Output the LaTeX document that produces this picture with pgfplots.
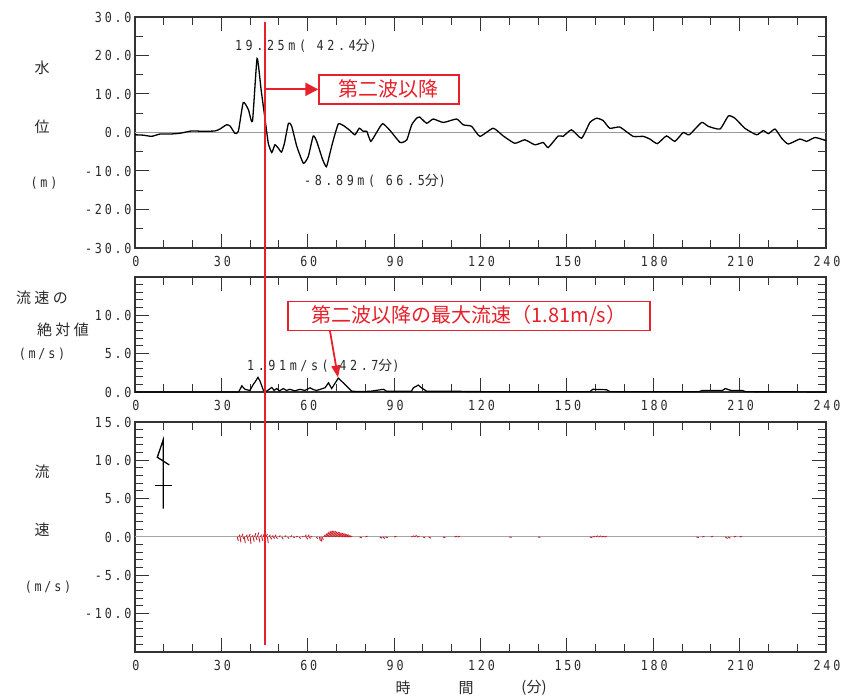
\documentclass[border=0pt]{standalone}
\usepackage{fontspec}
\usepackage{pgfplots}
\pgfplotsset{compat=1.18}
\usetikzlibrary{arrows.meta}
\newfontfamily\jp{Noto Sans CJK JP}
\newfontfamily\jpw[LetterSpace=22]{Noto Sans CJK JP}
\newfontfamily\numfont[LetterSpace=20,FakeStretch=0.85]{DejaVu Sans Mono}
\newfontfamily\numwide[LetterSpace=26,FakeStretch=0.85]{DejaVu Sans Mono}
\newcommand\nf{\numfont\fontsize{13.8pt}{15pt}\selectfont}
\newcommand\nw{\numwide\fontsize{13.8pt}{15pt}\selectfont}
\newcommand\jf{\jp\fontsize{15pt}{17pt}\selectfont}
\definecolor{axc}{HTML}{333333}
\definecolor{txt}{HTML}{2A2A2A}
\definecolor{redc}{HTML}{E8202A}

\pgfplotsset{
  panel/.style={
    scale only axis, width=691pt,
    xmin=0, xmax=240,
    xtick={0,30,...,240},
    xticklabels={0,30,60,90,120,150,180,210,240},
    minor xtick={10,20,40,50,70,80,100,110,130,140,160,170,190,200,220,230},
    axis line style={line width=1.4pt, color=axc},
    tick style={line width=1pt, color=axc},
    major tick length=14pt, minor tick length=8pt,
    tick label style={font=\nf, text=txt},
    xticklabel style={yshift=-5pt, xshift=1pt},
    /pgf/number format/assume math mode=true,
    clip=false,
  },
}

\begin{document}
\begin{tikzpicture}
\useasboundingbox (0,0) rectangle (843pt,700pt);

% ---------------- water level ----------------
\begin{axis}[panel, at={(135pt,452pt)}, anchor=south west, height=231pt,
  ymin=-30, ymax=30,
  ytick={-30,-20,...,30},
  yticklabels={-30.0,-20.0,-10.0,0.0,10.0,20.0,30.0},
  minor ytick={-25,-15,-5,5,15,25}]
\addplot[gray!80, line width=0.9pt] coordinates {(0,0) (240,0)};
\addplot[black, line width=1.3pt, smooth, tension=0.3] coordinates {
(0,-0.6)(2.9,-0.7)(5.8,-1.0)(8.7,-0.4)(12.2,-0.4)(15.6,-0.2)(19.7,0.4)(23.7,0.3)
(27.8,0.4)(29.5,0.9)(31.8,2.0)(33,1.7)(34.7,-0.2)(35.9,0.3)(37.6,7.8)(39.4,5.9)
(40.8,2.9)(42.4,19.25)(43.8,11.1)(45.2,3.3)(46.3,-2.8)(47.5,-5.2)(48.6,-3.2)
(49.8,-4.1)(50.9,-5.1)(51.9,-2.8)(53.3,2.4)(54.4,1.7)(56.2,-3.6)(58.5,-8.0)
(60.2,-6.2)(61.9,-0.9)(63.1,-2.3)(65.2,-7.1)(66.5,-8.89)(67.7,-5.4)(68.9,-1.9)
(70.6,2.2)(72.4,1.8)(74.7,0.5)(76.4,-0.6)(77.9,1.1)(79.3,0.3)(80.5,0.3)(81.9,-2.3)
(83.9,0)(86,2.3)(88.6,0.5)(92.1,-2.6)(94.4,-1.9)(96.1,2.0)(97.8,3.7)(98.9,4.0)
(101.3,2.4)(103.6,3.5)(107.1,2.6)(111.7,3.5)(114,2.0)(116.9,1.6)(119.8,-1.0)
(124.4,1.1)(127.9,-0.9)(131.9,-2.8)(135.4,-1.9)(138.9,-3.2)(141.8,-2.6)(143.5,-3.9)
(147,-0.9)(148.7,-1.0)(151.6,0.7)(155.1,-1.5)(158,2.6)(160.3,3.7)(162.6,3.1)
(164.9,1.1)(168.4,1.4)(173,-1.0)(176.5,-1.0)(178.8,-1.7)(181.4,-2.9)(184.6,-0.9)
(187.5,-2.3)(190.4,0)(192.5,-0.6)(196.8,2.6)(199.1,1.6)(203.2,0.9)(206.1,4.3)
(208.4,3.7)(211.8,1.1)(215.9,-0.6)(218.2,0.5)(220,-0.3)(222.3,0.9)(224.6,-1.5)
(226.9,-3.0)(230.9,-1.7)(233.3,-2.3)(236.2,-1.3)(240,-2.1)};
\node[anchor=west, text=txt, font=\nw, inner sep=0pt] at (axis cs:34.7,22.5) {19.25m(\ 42.4{\jp 分})};
\node[anchor=west, text=txt, font=\nw, inner sep=0pt] at (axis cs:58.7,-12.5) {-8.89m(\ 66.5{\jp 分})};
\node[draw=redc, line width=1.3pt, text=redc, minimum width=140pt, minimum height=29pt,
      inner sep=0pt, font=\jp\fontsize{20pt}{22pt}\selectfont] (b1) at (axis cs:88.2,11.2) {第二波以降};
\draw[redc, line width=2pt, -{Triangle[length=13pt,width=13pt]}] (axis cs:45,11.2) -- (b1.west);
\coordinate (vtop) at (axis cs:45,28.75);
\end{axis}

% ---------------- speed magnitude ----------------
\begin{axis}[panel, at={(135pt,308pt)}, anchor=south west, height=115pt,
  ymin=0, ymax=15,
  ytick={0,5,10}, yticklabels={0.0,5.0,10.0},
  minor ytick={1,2,3,4,6,7,8,9,11,12,13,14}]
\addplot[black, line width=1.2pt] coordinates {
(0,0)(30,0)(36,0)(37.1,0.8)(38.2,0.35)(39.9,0.2)(41.1,1.0)(41.7,1.3)(42.7,1.91)
(43.4,1.45)(44.6,0.2)(45.7,0.1)(47.5,0.6)(48.3,0.2)(49.2,0.45)(50.2,0.15)(51.5,0.45)
(52.6,0.2)(53.8,0.35)(55.5,0.15)(57.3,0.35)(59.0,0.2)
(60.8,0.55)(62.0,0.3)(63.1,0.2)(66,0.55)(67.2,1.2)(68.3,0.45)(68.9,0.8)(70.6,1.81)(72.9,1.0)
(75.3,0.1)(78.2,0.05)(81.8,0.1)(86.3,0.35)(87.4,0.1)(96,0.1)(96.7,0.55)(98.4,0.9)
(99.5,0.55)(101.3,0.1)(110,0.1)(120,0.05)(158,0.05)(159,0.35)(163.7,0.3)(165,0.05)
(195.9,0.05)(197,0.2)(204,0.2)(205,0.45)(207,0.2)(211,0.2)(212,0.05)(240,0)};
\node[anchor=west, text=txt, font=\nw, inner sep=0pt] at (axis cs:38.9,3.4) {1.91m/s(\ 42.7{\jp 分})};
\node[draw=redc, fill=white, line width=1.3pt, text=redc, minimum width=362pt, minimum height=29pt,
      inner sep=0pt, font=\jp\fontsize{20pt}{22pt}\selectfont] at (axis cs:116.0,9.9)
      {第二波以降の最大流速（1.81m/s）};
\draw[redc, line width=1.8pt, -{Triangle[length=12pt,width=9pt]}] (axis cs:67.7,8.0) -- (axis cs:70.5,1.9);
\end{axis}

% ---------------- velocity vectors ----------------
\begin{axis}[panel, at={(135pt,48pt)}, anchor=south west, height=230pt,
  ymin=-15, ymax=15,
  ytick={-10,-5,0,5,10,15}, yticklabels={-10.0,-5.0,0.0,5.0,10.0,15.0},
  minor ytick={-14,-13,...,14}]
\addplot[gray!70, line width=1pt] coordinates {(0,0) (240,0)};
% direction symbol
\addplot[black, line width=1.3pt] coordinates {(9.83,3.7) (9.83,12.7) (7.75,10.4) (11.9,9.4)};
\addplot[black, line width=1.3pt] coordinates {(6.9,6.7) (13.0,6.7)};
\addplot[redc!85!black, line width=0.9pt, quiver={u=\thisrow{u}, v=\thisrow{v}}] table {
t y u v
35.5 0 0.4 -0.5
36.0 0 0.5 0.3
36.5 0 0.3 -0.7
37.0 0 0.5 0.4
37.5 0 0.4 -0.3
38.0 0 0.3 -0.8
38.5 0 0.5 0.3
39.0 0 0.4 -0.5
39.5 0 0.5 0.4
40.0 0 0.3 -0.9
40.5 0 0.5 0.2
41.0 0 0.4 -0.6
41.5 0 0.5 0.5
42.0 0 0.4 -0.4
42.5 0 0.5 0.6
43.0 0 0.4 -0.7
43.5 0 0.5 0.3
44.0 0 0.4 -0.5
44.5 0 0.5 0.5
45.0 0 0.4 -0.6
45.5 0 0.5 0.4
46.0 0 0.3 -0.8
46.5 0 0.5 0.3
47.0 0 0.5 -0.3
47.5 0 0.5 0.2
48.0 0 0.5 -0.2
48.5 0 0.5 0.3
49.0 0 0.5 -0.2
50.0 0 0.5 0.2
51.0 0 0.5 -0.3
52.0 0 0.5 0.2
53.0 0 0.5 -0.2
54.0 0 0.5 0.2
55.0 0 0.5 -0.1
56.0 0 0.5 0.1
57.0 0 0.5 -0.2
58.0 0 0.5 0.1
59.0 0 0.5 0.3
59.5 0 0.5 -0.3
60.0 0 0.5 0.3
60.5 0 0.5 -0.2
61.0 0 0.5 0.1
63.0 0 0.5 -0.2
64.0 0 0.4 -0.5
64.5 0 0.4 -0.6
65.0 0 0.4 -0.4
65.5 0 0.6 0.3
66.0 0 0.8 0.5
66.5 0 1.0 0.7
67.0 0 1.2 0.8
67.5 0 1.2 0.8
68.0 0 1.2 0.8
68.5 0 1.2 0.75
69.0 0 1.2 0.7
69.5 0 1.2 0.65
70.0 0 1.2 0.6
70.5 0 1.2 0.55
71.0 0 1.2 0.5
71.5 0 1.2 0.45
72.0 0 1.2 0.4
72.5 0 1.2 0.35
73.0 0 1.2 0.3
73.5 0 1.0 0.2
74.0 0 1.0 0.15
74.5 0 1.0 0.1
78.0 0 0.8 -0.1
80.0 0 0.8 0.1
85.0 0 0.8 -0.15
86.0 0 0.8 -0.2
87.0 0 0.8 -0.1
90.0 0 0.8 0.1
96.0 0 0.8 0.15
97.0 0 0.8 0.2
98.0 0 0.8 0.1
100.0 0 0.8 -0.1
102.0 0 0.8 -0.15
107.0 0 0.8 -0.1
111.0 0 0.8 0.1
112.0 0 0.8 0.1
130.0 0 0.8 -0.05
140.0 0 0.8 -0.05
158.0 0 0.8 -0.1
159.0 0 0.8 0.1
160.0 0 0.8 0.15
161.0 0 0.8 0.15
162.0 0 0.8 0.1
163.0 0 0.8 0.1
195.0 0 0.8 -0.1
197.0 0 0.8 0.1
200.0 0 0.8 0.1
205.0 0 0.8 -0.2
206.0 0 0.8 -0.15
208.0 0 0.8 0.1
210.0 0 0.8 0.1
};
\coordinate (vbot) at (axis cs:45,-14.1);
\end{axis}

% second-wave marker line
\draw[redc, line width=2pt] (vtop) -- (vbot);

% axis titles
\begin{scope}[text=txt]
\node[font=\jf] at (42pt,632pt) {水};
\node[font=\jf] at (42pt,573pt) {位};
\node[font=\nf] at (44pt,517pt) {(m)};
\node[font=\jpw\fontsize{15pt}{17pt}\selectfont] at (42pt,402pt) {流速の};
\node[font=\jpw\fontsize{15pt}{17pt}\selectfont] at (63pt,370pt) {絶対値};
\node[font=\nf] at (42pt,346pt) {(m/s)};
\node[font=\jf] at (42pt,228pt) {流};
\node[font=\jf] at (42pt,170pt) {速};
\node[font=\nf] at (48pt,113pt) {(m/s)};
\node[font=\jf] at (403pt,12pt) {時};
\node[font=\jf] at (466pt,12pt) {間};
\node[font=\jf] at (534pt,12pt) {(分)};
\end{scope}
\end{tikzpicture}
\end{document}
